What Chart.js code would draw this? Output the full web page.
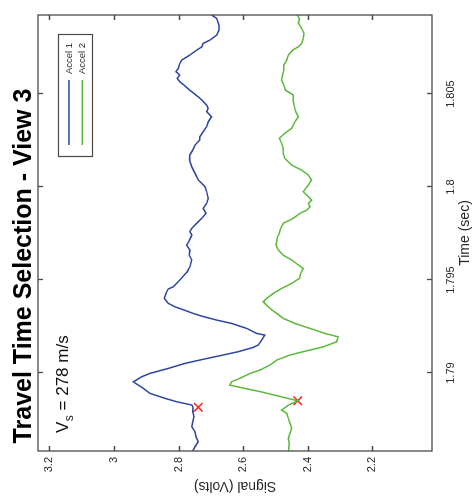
<!DOCTYPE html>
<html>
<head>
<meta charset="utf-8">
<script src="https://cdn.jsdelivr.net/npm/chart.js@4.4.1/dist/chart.umd.min.js"></script>
<style>
  html, body { margin: 0; padding: 0; background: #fff; overflow: hidden; }
  body { width: 474px; height: 496px; position: relative; }
  /* the figure is shown turned a quarter turn counter-clockwise */
  #wrap { position: absolute; left: 0; top: 0; width: 496px; height: 474px;
          transform-origin: 0 0; transform: translate(0, 496px) rotate(-90deg); }
</style>
</head>
<body>
<div id="wrap"><canvas id="chart" width="496" height="474"></canvas></div>
<script>
// Accel 1 trace
const accel1Time = [
  1.78581, 1.78604, 1.78631, 1.78658, 1.78684, 1.78711, 1.78738, 1.78765, 1.78792, 1.78816,
  1.78828, 1.78846, 1.78864, 1.78891, 1.78918, 1.78941, 1.78953, 1.78980, 1.78998, 1.79025,
  1.79052, 1.79074, 1.79097, 1.79115, 1.79138, 1.79151, 1.79177, 1.79204, 1.79213, 1.79240,
  1.79267, 1.79285, 1.79306, 1.79321, 1.79339, 1.79356, 1.79375, 1.79402, 1.79428, 1.79452,
  1.79464, 1.79491, 1.79518, 1.79545, 1.79571, 1.79608, 1.79634, 1.79661, 1.79688, 1.79715,
  1.79742, 1.79760, 1.79778, 1.79805, 1.79832, 1.79859, 1.79885, 1.79912, 1.79939, 1.79975,
  1.80002, 1.80038, 1.80074, 1.80109, 1.80145, 1.80172, 1.80199, 1.80226, 1.80253, 1.80270,
  1.80297, 1.80324, 1.80351, 1.80378, 1.80405, 1.80423, 1.80441, 1.80468, 1.80485, 1.80521,
  1.80548, 1.80566, 1.80584, 1.80602, 1.80620, 1.80638, 1.80665, 1.80683, 1.80710, 1.80736,
  1.80754, 1.80772, 1.80790, 1.80817, 1.80844, 1.80871, 1.80907, 1.80925
];
const accel1Volts = [
  2.756, 2.749, 2.739, 2.746, 2.749, 2.759, 2.756, 2.752, 2.756, 2.755,
  2.759, 2.806, 2.842, 2.889, 2.909, 2.930, 2.940, 2.914, 2.889, 2.832,
  2.780, 2.724, 2.662, 2.615, 2.569, 2.553, 2.543, 2.533, 2.558, 2.589,
  2.636, 2.682, 2.728, 2.755, 2.783, 2.811, 2.832, 2.844, 2.839, 2.832,
  2.816, 2.801, 2.787, 2.773, 2.765, 2.759, 2.767, 2.765, 2.775, 2.766,
  2.759, 2.765, 2.759, 2.744, 2.728, 2.715, 2.724, 2.713, 2.708, 2.713,
  2.718, 2.739, 2.749, 2.759, 2.766, 2.765, 2.756, 2.749, 2.734, 2.734,
  2.724, 2.713, 2.708, 2.698, 2.713, 2.708, 2.713, 2.728, 2.739, 2.765,
  2.783, 2.796, 2.804, 2.796, 2.808, 2.801, 2.796, 2.790, 2.765, 2.744,
  2.728, 2.724, 2.703, 2.682, 2.675, 2.675, 2.682, 2.698
];

// Accel 2 trace
const accel2Time = [
  1.78581, 1.78622, 1.78649, 1.78676, 1.78703, 1.78730, 1.78756, 1.78783, 1.78801, 1.78828,
  1.78851, 1.78898, 1.78935, 1.78953, 1.78972, 1.78998, 1.79016, 1.79043, 1.79070, 1.79097,
  1.79115, 1.79141, 1.79168, 1.79195, 1.79213, 1.79240, 1.79267, 1.79294, 1.79321, 1.79339,
  1.79356, 1.79383, 1.79402, 1.79428, 1.79455, 1.79482, 1.79509, 1.79536, 1.79563, 1.79581,
  1.79608, 1.79634, 1.79661, 1.79688, 1.79710, 1.79731, 1.79751, 1.79778, 1.79805, 1.79832,
  1.79859, 1.79876, 1.79894, 1.79912, 1.79930, 1.79948, 1.79975, 1.80011, 1.80038, 1.80064,
  1.80091, 1.80118, 1.80154, 1.80181, 1.80208, 1.80235, 1.80262, 1.80289, 1.80316, 1.80351,
  1.80378, 1.80405, 1.80423, 1.80459, 1.80495, 1.80521, 1.80548, 1.80575, 1.80602, 1.80629,
  1.80656, 1.80683, 1.80710, 1.80736, 1.80754, 1.80772, 1.80799, 1.80826, 1.80853, 1.80882,
  1.80907, 1.80925
];
const accel2Volts = [
  2.460, 2.457, 2.460, 2.455, 2.450, 2.455, 2.460, 2.465, 2.481, 2.460,
  2.431, 2.542, 2.641, 2.636, 2.610, 2.579, 2.548, 2.517, 2.496, 2.455,
  2.414, 2.352, 2.311, 2.306, 2.347, 2.393, 2.440, 2.476, 2.496, 2.511,
  2.522, 2.538, 2.527, 2.507, 2.481, 2.450, 2.426, 2.422, 2.414, 2.429,
  2.450, 2.476, 2.491, 2.498, 2.496, 2.494, 2.488, 2.484, 2.476, 2.445,
  2.424, 2.403, 2.393, 2.398, 2.388, 2.398, 2.414, 2.398, 2.388, 2.398,
  2.419, 2.450, 2.471, 2.476, 2.476, 2.481, 2.488, 2.471, 2.450, 2.440,
  2.429, 2.437, 2.440, 2.445, 2.445, 2.469, 2.474, 2.481, 2.478, 2.474,
  2.474, 2.465, 2.460, 2.447, 2.429, 2.419, 2.414, 2.412, 2.419, 2.429,
  2.426, 2.433
];

// picked arrival points (red crosses)
const pickTime = [1.78816, 1.78851];
const pickVolts = [2.739, 2.431];

const timeTicks = [1.79, 1.795, 1.8, 1.805];
const timeTickLabels = ["1.79", "1.795", "1.8", "1.805"];
const voltTicks = [2.2, 2.4, 2.6, 2.8, 3, 3.2];
const voltTickLabels = ["2.2", "2.4", "2.6", "2.8", "3", "3.2"];

const seriesNames = ["Accel 1", "Accel 2"];
const seriesColors = ["#2c45a0", "#5cb83a"];

const toPoints = (xs, ys) => xs.map((x, i) => ({ x: x, y: ys[i] }));

const FONT = '"Liberation Sans", Arial, Helvetica, sans-serif';
const TEXT = "#262626";

// box, inward ticks, legend, title and velocity note
const decorations = {
  id: "decorations",
  afterDraw(chart) {
    const { ctx, chartArea: a, scales: { x, y } } = chart;
    ctx.save();

    ctx.strokeStyle = "#4a4a4a";
    ctx.lineWidth = 1.3;
    ctx.strokeRect(a.left, a.top, a.right - a.left, a.bottom - a.top);
    ctx.beginPath();
    timeTicks.forEach((t) => {
      const px = Math.round(x.getPixelForValue(t)) + 0.5;
      ctx.moveTo(px, a.bottom); ctx.lineTo(px, a.bottom - 5);
      ctx.moveTo(px, a.top); ctx.lineTo(px, a.top + 5);
    });
    voltTicks.forEach((v) => {
      const py = Math.round(y.getPixelForValue(v)) + 0.5;
      ctx.moveTo(a.left, py); ctx.lineTo(a.left + 5, py);
      ctx.moveTo(a.right, py); ctx.lineTo(a.right - 5, py);
    });
    ctx.stroke();

    // legend
    ctx.fillStyle = "#fff";
    ctx.fillRect(339.5, 58.5, 122, 34);
    ctx.strokeStyle = "#4a4a4a";
    ctx.lineWidth = 1.2;
    ctx.strokeRect(339.5, 58.5, 122, 34);
    ctx.font = "9.5px " + FONT;
    ctx.textBaseline = "middle";
    ctx.textAlign = "left";
    seriesNames.forEach((name, i) => {
      const ly = 69 + i * 13.3;
      ctx.strokeStyle = seriesColors[i];
      ctx.lineWidth = 1.5;
      ctx.beginPath(); ctx.moveTo(351, ly); ctx.lineTo(416, ly); ctx.stroke();
      ctx.fillStyle = TEXT;
      ctx.fillText(name, 422, ly);
    });

    // title
    ctx.fillStyle = "#000";
    ctx.textAlign = "center";
    ctx.textBaseline = "alphabetic";
    ctx.font = "bold 25px " + FONT;
    ctx.fillText("Travel Time Selection - View 3", 230, 31);

    // V_s = 278 m/s
    ctx.textAlign = "left";
    ctx.fillStyle = "#111";
    ctx.font = "17px " + FONT;
    let cx = 63;
    ctx.fillText("V", cx, 68);
    cx += ctx.measureText("V").width;
    ctx.font = "12px " + FONT;
    ctx.fillText("s", cx + 0.5, 73);
    cx += ctx.measureText("s").width + 0.5;
    ctx.font = "17px " + FONT;
    ctx.fillText(" = 278 m/s", cx, 68);

    ctx.restore();
  }
};

new Chart(document.getElementById("chart"), {
  type: "scatter",
  data: {
    datasets: [
      {
        label: seriesNames[0],
        data: toPoints(accel1Time, accel1Volts),
        showLine: true,
        borderColor: seriesColors[0],
        borderWidth: 1.5,
        pointRadius: 0,
        tension: 0
      },
      {
        label: seriesNames[1],
        data: toPoints(accel2Time, accel2Volts),
        showLine: true,
        borderColor: seriesColors[1],
        borderWidth: 1.5,
        pointRadius: 0,
        tension: 0
      },
      {
        label: "Pick",
        data: toPoints(pickTime, pickVolts),
        showLine: false,
        pointStyle: "crossRot",
        pointRadius: 6,
        borderColor: "#ff1f1f",
        borderWidth: 1.6
      }
    ]
  },
  options: {
    responsive: false,
    animation: false,
    events: [],
    layout: { padding: { top: 38, right: 15, left: 0, bottom: 0 } },
    plugins: {
      legend: { display: false },
      tooltip: { enabled: false },
      title: { display: false }
    },
    scales: {
      x: {
        type: "linear",
        min: 1.78581,
        max: 1.80925,
        grid: { display: false, drawTicks: false },
        border: { display: false },
        afterBuildTicks: (s) => { s.ticks = timeTicks.map((v) => ({ value: v })); },
        afterFit: (s) => { s.height = 42; },
        ticks: {
          padding: 12,
          maxRotation: 0,
          color: TEXT,
          font: { family: FONT, size: 11 },
          callback: (v, i) => timeTickLabels[i]
        },
        title: {
          display: true,
          text: "Time (sec)",
          color: TEXT,
          font: { family: FONT, size: 14 },
          padding: { top: 2, bottom: 0 }
        }
      },
      y: {
        type: "linear",
        min: 2.0155,
        max: 3.235,
        grid: { display: false, drawTicks: false },
        border: { display: false },
        afterBuildTicks: (s) => { s.ticks = voltTicks.map((v) => ({ value: v })); },
        afterFit: (s) => { s.width = 45; },
        ticks: {
          padding: 6,
          color: TEXT,
          font: { family: FONT, size: 11 },
          callback: (v, i) => voltTickLabels[i]
        },
        title: {
          display: true,
          text: "Signal (Volts)",
          color: TEXT,
          font: { family: FONT, size: 14 },
          padding: { top: 2, bottom: 0 }
        }
      }
    }
  },
  plugins: [decorations]
});
</script>
</body>
</html>
